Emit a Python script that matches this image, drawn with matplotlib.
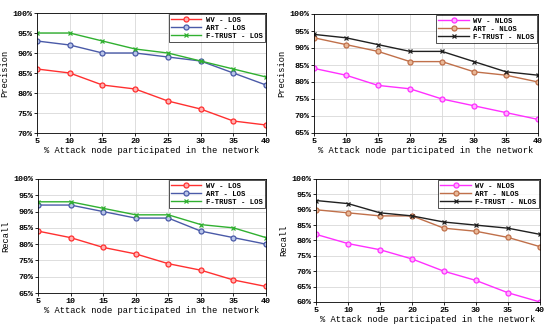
import matplotlib
matplotlib.use("Agg")
import matplotlib.pyplot as plt
from matplotlib.ticker import FuncFormatter

attack_pct = [5, 10, 15, 20, 25, 30, 35, 40]

# precision, LOS
prec_wv_los = [86, 85, 82, 81, 78, 76, 73, 72]
prec_art_los = [93, 92, 90, 90, 89, 88, 85, 82]
prec_ft_los = [95, 95, 93, 91, 90, 88, 86, 84]

# precision, NLOS
prec_wv_nlos = [84, 82, 79, 78, 75, 73, 71, 69]
prec_art_nlos = [93, 91, 89, 86, 86, 83, 82, 80]
prec_ft_nlos = [94, 93, 91, 89, 89, 86, 83, 82]

# recall, LOS
rec_wv_los = [84, 82, 79, 77, 74, 72, 69, 67]
rec_art_los = [92, 92, 90, 88, 88, 84, 82, 80]
rec_ft_los = [93, 93, 91, 89, 89, 86, 85, 82]

# recall, NLOS
rec_wv_nlos = [82, 79, 77, 74, 70, 67, 63, 60]
rec_art_nlos = [90, 89, 88, 88, 84, 83, 81, 78]
rec_ft_nlos = [93, 92, 89, 88, 86, 85, 84, 82]

plt.rcParams["font.family"] = ["Liberation Mono", "DejaVu Sans Mono"]
plt.rcParams["font.weight"] = "bold"

LOS_STYLE = [
  ("WV - LOS", "#ff3030", "o", "#ffb0b0", 3.6),
  ("ART - LOS", "#4a5aa8", "o", "#b8c4e8", 3.6),
  ("F-TRUST - LOS", "#30b030", "x", "#30b030", 3.2),
]
NLOS_STYLE = [
  ("WV - NLOS", "#ff30ff", "o", "#ffb0ff", 3.6),
  ("ART - NLOS", "#c0704a", "o", "#e8b898", 3.6),
  ("F-TRUST - NLOS", "#202020", "x", "#202020", 3.2),
]


def draw_panel(ax, series, styles, ylabel, ylim):
  for vals, (label, color, marker, face, ms) in zip(series, styles):
    ax.plot(attack_pct, vals, color=color, lw=1.0, marker=marker,
            markersize=ms, markerfacecolor=face, markeredgecolor=color,
            markeredgewidth=0.9, label=label)
  ax.set_xlim(5, 40)
  ax.set_ylim(*ylim)
  ax.set_xticks(attack_pct)
  ax.set_yticks(range(ylim[0], ylim[1] + 1, 5))
  ax.yaxis.set_major_formatter(FuncFormatter(lambda v, p: f"{int(v)}%"))
  ax.tick_params(labelsize=6, length=2, width=0.6, pad=1.5)
  ax.grid(True, color="#d8d8d8", lw=0.6)
  for s in ax.spines.values():
    s.set_linewidth(0.6)
  ax.set_xlabel("% Attack node participated in the network", fontsize=6.3,
                labelpad=1)
  ax.set_ylabel(ylabel, fontsize=6.3, labelpad=2)
  leg = ax.legend(loc="upper right", fontsize=5.2, frameon=True,
                  fancybox=False, borderpad=0.3, labelspacing=0.15,
                  handlelength=4.2, handletextpad=0.6, borderaxespad=0.2)
  leg.get_frame().set_edgecolor("black")
  leg.get_frame().set_linewidth(0.6)


fig = plt.figure(figsize=(5.5, 3.31), dpi=100)
W, H = 550, 331


def add_ax(l, t, r, b):
  return fig.add_axes([l / W, 1 - b / H, (r - l) / W, (b - t) / H])


ax1 = add_ax(37, 13, 266, 133)
ax2 = add_ax(314, 14, 538, 133)
ax3 = add_ax(38, 179, 266, 293)
ax4 = add_ax(316, 179, 540, 302)

draw_panel(ax1, [prec_wv_los, prec_art_los, prec_ft_los], LOS_STYLE,
           "Precision", (70, 100))
draw_panel(ax2, [prec_wv_nlos, prec_art_nlos, prec_ft_nlos], NLOS_STYLE,
           "Precision", (65, 100))
draw_panel(ax3, [rec_wv_los, rec_art_los, rec_ft_los], LOS_STYLE,
           "Recall", (65, 100))
draw_panel(ax4, [rec_wv_nlos, rec_art_nlos, rec_ft_nlos], NLOS_STYLE,
           "Recall", (60, 100))

fig.savefig("out.png", dpi=100)
